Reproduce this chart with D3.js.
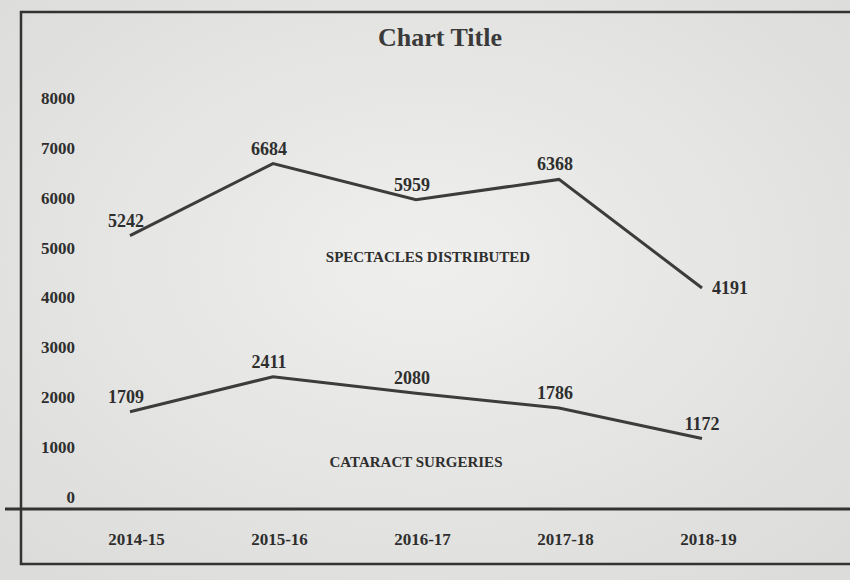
<!DOCTYPE html>
<html><head><meta charset="utf-8">
<script src="https://cdn.jsdelivr.net/npm/d3@7"></script>
<style>body{margin:0;background:#e4e4e2;}svg{display:block;}</style>
</head><body>
<script>
const categories = ["2014-15","2015-16","2016-17","2017-18","2018-19"];
const spectacles = [5242, 6684, 5959, 6368, 4191];
const cataract = [1709, 2411, 2080, 1786, 1172];
const yTicks = [0,1000,2000,3000,4000,5000,6000,7000,8000];
const seriesNames = ["SPECTACLES DISTRIBUTED","CATARACT SURGERIES"];
const title = "Chart Title";

const W=850,H=580;
const svg=d3.select("body").append("svg").attr("width",W).attr("height",H);
const defs=svg.append("defs");
const g1=defs.append("radialGradient").attr("id","paper").attr("cx","50%").attr("cy","45%").attr("r","70%");
g1.append("stop").attr("offset","0%").attr("stop-color","#efefed");
g1.append("stop").attr("offset","100%").attr("stop-color","#dcdcda");
svg.append("rect").attr("width",W).attr("height",H).attr("fill","url(#paper)");

const font="'Liberation Serif','DejaVu Serif',serif";
const ink="#2e2e2e";

// frame
svg.append("rect").attr("x",21).attr("y",12).attr("width",840).attr("height",552)
  .attr("fill","none").attr("stroke","#333").attr("stroke-width",2.5);
// baseline
svg.append("line").attr("x1",5).attr("x2",850).attr("y1",509).attr("y2",509)
  .attr("stroke","#333").attr("stroke-width",3);

const x=d3.scalePoint().domain(categories).range([130,702]);
const y=d3.scaleLinear().domain([0,8000]).range([497,98]);

svg.append("text").attr("x",440).attr("y",46).attr("text-anchor","middle")
  .attr("font-family",font).attr("font-weight","bold").attr("font-size",26)
  .attr("fill","#3a3a3a").text(title);

const yAxis=d3.axisLeft(y).tickValues(yTicks).tickSize(0).tickFormat(d3.format("d"));
const ya=svg.append("g").attr("transform","translate(80,0)").call(yAxis);
ya.select(".domain").remove();
ya.selectAll("text").attr("font-family",font).attr("font-weight","bold").attr("font-size",17).attr("fill",ink).attr("dx",-2);

const xAxis=d3.axisBottom(x).tickSize(0);
const xa=svg.append("g").attr("transform","translate(6,530)").call(xAxis);
xa.select(".domain").remove();
xa.selectAll("text").attr("font-family",font).attr("font-weight","bold").attr("font-size",17).attr("fill",ink);

const line=d3.line().x((d,i)=>x(categories[i])).y(d=>y(d));
[spectacles,cataract].forEach((s,k)=>{
  svg.append("path").datum(s).attr("d",line).attr("fill","none")
    .attr("stroke","#3c3c3c").attr("stroke-width",3).attr("stroke-linejoin","miter");
  svg.append("g").selectAll("text").data(s).join("text")
    .attr("x",(d,i)=>x(categories[i])+(i===s.length-1? (k===0?28:0):-4))
    .attr("y",(d,i)=>y(d)+(i===s.length-1&&k===0?6:-9))
    .attr("text-anchor","middle").attr("font-family",font).attr("font-weight","bold")
    .attr("font-size",18).attr("fill",ink).text(d=>d);
});

svg.append("text").attr("x",428).attr("y",262).attr("text-anchor","middle")
  .attr("font-family",font).attr("font-weight","bold").attr("font-size",15).attr("fill",ink).text(seriesNames[0]);
svg.append("text").attr("x",416).attr("y",467).attr("text-anchor","middle")
  .attr("font-family",font).attr("font-weight","bold").attr("font-size",15).attr("fill",ink).text(seriesNames[1]);
</script>
</body></html>
